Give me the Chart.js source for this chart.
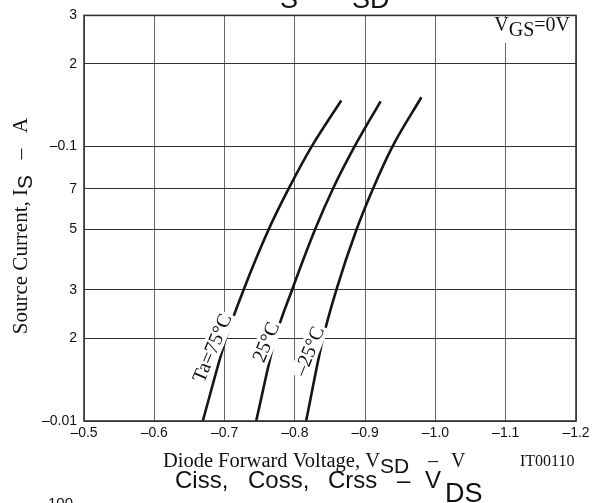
<!DOCTYPE html>
<html>
<head>
<meta charset="utf-8">
<script src="https://cdn.jsdelivr.net/npm/chart.js@4.4.1/dist/chart.umd.min.js"></script>
<style>
html,body{margin:0;padding:0;background:#fff;}
#wrap{width:604px;height:503px;position:relative;}
</style>
</head>
<body>
<div id="wrap"><canvas id="c" width="604" height="503"></canvas></div>
<script>
// ---- data ----
const xTicks = [-0.5, -0.6, -0.7, -0.8, -0.9, -1.0, -1.1, -1.2];
const xTickLabels = ['–0.5', '–0.6', '–0.7', '–0.8', '–0.9', '–1.0', '–1.1', '–1.2'];
const yTicks = [0.01, 0.02, 0.03, 0.05, 0.07, 0.1, 0.2, 0.3];
const yTickLabels = ['–0.01', '2', '3', '5', '7', '–0.1', '2', '3'];

const iTa75  = [0.01, 0.02, 0.03, 0.05, 0.07, 0.1, 0.147];
const vTa75  = [-0.669, -0.702, -0.727, -0.763, -0.791, -0.824, -0.866];
const iTa25  = [0.01, 0.02, 0.03, 0.05, 0.07, 0.1, 0.146];
const vTa25  = [-0.745, -0.772, -0.796, -0.829, -0.854, -0.885, -0.922];
const iTaM25 = [0.01, 0.02, 0.03, 0.05, 0.07, 0.1, 0.151];
const vTaM25 = [-0.816, -0.840, -0.859, -0.888, -0.911, -0.939, -0.980];
const seriesNames = ['Ta=75°C', '25°C', '–25°C'];

function pts(vs, is) { return vs.map((v, i) => ({ x: v, y: is[i] })); }

// ---- helpers ----
function drawRich(ctx, parts, x, y, align) {
  let w = 0;
  parts.forEach(p => { ctx.font = p.font; w += ctx.measureText(p.t).width; });
  let cx = align === 'center' ? x - w / 2 : (align === 'right' ? x - w : x);
  ctx.textAlign = 'left';
  ctx.textBaseline = 'alphabetic';
  parts.forEach(p => {
    ctx.font = p.font;
    ctx.fillText(p.t, cx, y + (p.dy || 0));
    cx += ctx.measureText(p.t).width;
  });
  return w;
}
function drawAt(ctx, parts) {
  ctx.textBaseline = 'alphabetic';
  parts.forEach(p => { ctx.font = p.font; ctx.textAlign = p.align || 'left'; ctx.fillText(p.t, p.x, p.y); });
  ctx.textAlign = 'left';
}

const serif = '"Liberation Serif", "DejaVu Serif", serif';
const sans = '"Liberation Sans", Arial, sans-serif';
const S20 = '20px ' + serif;
const S21 = '21px ' + serif;
const SUB = '21px ' + sans;
const BIG = '24px ' + sans;
const BIGSUB = '27px ' + sans;

const decor = {
  id: 'decor',
  afterDatasetsDraw(chart) {
    const ctx = chart.ctx;
    const a = chart.chartArea;
    ctx.save();
    // border box
    ctx.strokeStyle = '#333';
    ctx.lineWidth = 1.6;
    ctx.strokeRect(a.left, a.top, a.right - a.left, a.bottom - a.top);

    // VGS label with white background
    ctx.fillStyle = '#fff';
    ctx.fillRect(487, 17, 86, 26);
    ctx.fillStyle = '#111';
    drawRich(ctx, [{t:'V', font:S20},{t:'GS', font:S20, dy:5},{t:'=0V', font:S20}], 570, 31, 'right');

    // curve labels
    const labs = [
      { t: seriesNames[0], x: 212, y: 348, rot: -67 },
      { t: seriesNames[1], x: 266, y: 342, rot: -67 },
      { t: seriesNames[2], x: 309, y: 351, rot: -68 }
    ];
    labs.forEach(l => {
      ctx.save();
      ctx.translate(l.x, l.y);
      ctx.rotate(l.rot * Math.PI / 180);
      ctx.font = S20;
      const w = ctx.measureText(l.t).width;
      ctx.fillStyle = '#fff';
      ctx.fillRect(-w / 2 - 2, -10, w + 4, 20);
      ctx.fillStyle = '#111';
      ctx.textAlign = 'center';
      ctx.textBaseline = 'middle';
      ctx.fillText(l.t, 0, 1);
      ctx.restore();
    });

    // x axis title
    ctx.fillStyle = '#111';
    drawAt(ctx, [
      {t:'Diode Forward Voltage, V', font:'20.5px ' + serif, x:380, y:467, align:'right'},
      {t:'SD', font:SUB, x:380, y:473},
      {t:'–', font:S20, x:428, y:467},
      {t:'V', font:S20, x:451, y:467}
    ]);
    // code
    ctx.font = '16px ' + serif;
    ctx.textAlign = 'left';
    ctx.fillText('IT00110', 520, 466);

    // y axis title (rotated)
    ctx.save();
    ctx.translate(27, 226);
    ctx.rotate(-Math.PI / 2);
    drawRich(ctx, [{t:'Source Current, I', font:S21},{t:'S', font:SUB, dy:5},{t:'   –   A', font:S21}], 0, 0, 'center');
    ctx.restore();

    // neighbouring chart titles (cut off)
    ctx.fillStyle = '#111';
    drawAt(ctx, [
      {t:'I', font:BIG, x:273, y:-6},
      {t:'S', font:BIGSUB, x:280, y:8},
      {t:'–', font:BIG, x:318, y:-6},
      {t:'V', font:BIG, x:334, y:-6},
      {t:'SD', font:BIGSUB, x:352, y:8}
    ]);
    drawAt(ctx, [
      {t:'Ciss,', font:BIG, x:175, y:488},
      {t:'Coss,', font:BIG, x:248, y:488},
      {t:'Crss', font:BIG, x:328, y:488},
      {t:'–', font:BIG, x:397, y:488},
      {t:'V', font:BIG, x:425, y:488},
      {t:'DS', font:BIGSUB, x:445, y:502}
    ]);
    ctx.font = '15px ' + sans;
    ctx.textAlign = 'left';
    ctx.fillText('100', 48, 508);
    ctx.restore();
  }
};

const mkDs = (vs, is) => ({
  data: pts(vs, is),
  showLine: true,
  borderColor: '#151515',
  borderWidth: 2.6,
  pointRadius: 0,
  cubicInterpolationMode: 'monotone',
  fill: false
});

new Chart(document.getElementById('c'), {
  type: 'scatter',
  data: { datasets: [mkDs(vTa75, iTa75), mkDs(vTa25, iTa25), mkDs(vTaM25, iTaM25)] },
  options: {
    responsive: false,
    animation: false,
    devicePixelRatio: 1,
    layout: { padding: { left: 0, right: 28, top: 13, bottom: 0 } },
    plugins: { legend: { display: false }, tooltip: { enabled: false } },
    scales: {
      x: {
        type: 'linear', min: -1.2, max: -0.5, reverse: true,
        afterBuildTicks: s => { s.ticks = xTicks.map(v => ({ value: v })); },
        afterFit: s => { s.height = 82; },
        ticks: {
          autoSkip: false, maxRotation: 0, padding: 4, color: '#111',
          font: { family: sans, size: 14 },
          callback: (v) => { const i = xTicks.findIndex(t => Math.abs(t - v) < 1e-6); return i >= 0 ? xTickLabels[i] : ''; }
        },
        grid: { color: '#666', lineWidth: 1, drawTicks: false },
        border: { display: false }
      },
      y: {
        type: 'logarithmic', min: 0.01, max: 0.3,
        afterBuildTicks: s => { s.ticks = yTicks.map(v => ({ value: v })); },
        afterFit: s => { s.width = 84; },
        ticks: {
          autoSkip: false, padding: 7, color: '#111',
          font: { family: sans, size: 14 },
          callback: (v) => { const i = yTicks.findIndex(t => Math.abs(t - v) < 1e-9); return i >= 0 ? yTickLabels[i] : ''; }
        },
        grid: { color: '#333', lineWidth: 1, drawTicks: false },
        border: { display: false }
      }
    }
  },
  plugins: [decor]
});
</script>
</body>
</html>
